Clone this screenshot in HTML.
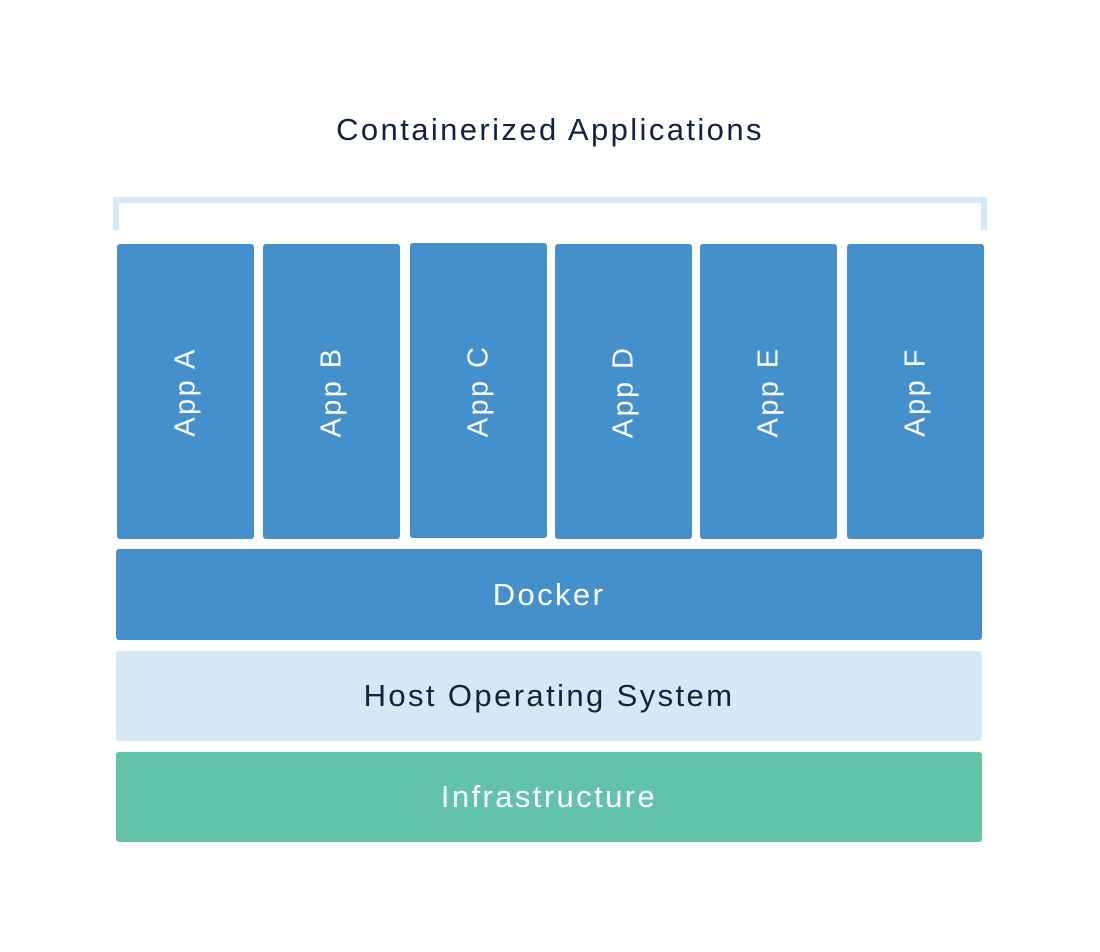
<!DOCTYPE html>
<html><head><style>
body{margin:0;width:1100px;height:952px;background:#fff;position:relative;font-family:"Liberation Sans",sans-serif;overflow:hidden;letter-spacing:2.4px}
.a{position:absolute;box-sizing:border-box}
.t{position:absolute;left:0;width:1100px;text-align:center;font-size:31px;color:#13233f;top:112px}
.app{position:absolute;top:244px;width:137px;height:295px;background:#4490cc;border-radius:3px}
.app span{position:absolute;left:50%;top:50%;transform:translate(-50%,-50%) rotate(-90deg);color:#fff;font-size:29px;white-space:nowrap}
.bar{position:absolute;left:116px;width:866px;height:91px;border-radius:3px;display:flex;align-items:center;justify-content:center;font-size:31px}
</style></head><body>
<div class="t">Containerized Applications</div>
<div class="a" style="left:113px;top:197px;width:874px;height:6px;background:#d6e9f8"></div>
<div class="a" style="left:113px;top:197px;width:6px;height:33px;background:#d6e9f8"></div>
<div class="a" style="left:981px;top:197px;width:6px;height:33px;background:#d6e9f8"></div>
<div class="app" style="left:117px"><span>App A</span></div>
<div class="app" style="left:263px"><span>App B</span></div>
<div class="app" style="left:410px;top:243px"><span>App C</span></div>
<div class="app" style="left:555px"><span>App D</span></div>
<div class="app" style="left:700px"><span>App E</span></div>
<div class="app" style="left:847px"><span>App F</span></div>
<div class="bar" style="top:549px;background:#4490cc;color:#fff">Docker</div>
<div class="bar" style="top:651px;height:90px;background:#d4e8f8;color:#13233f">Host Operating System</div>
<div class="bar" style="top:752px;height:90px;background:#62c3a8;color:#fff">Infrastructure</div>
</body></html>
